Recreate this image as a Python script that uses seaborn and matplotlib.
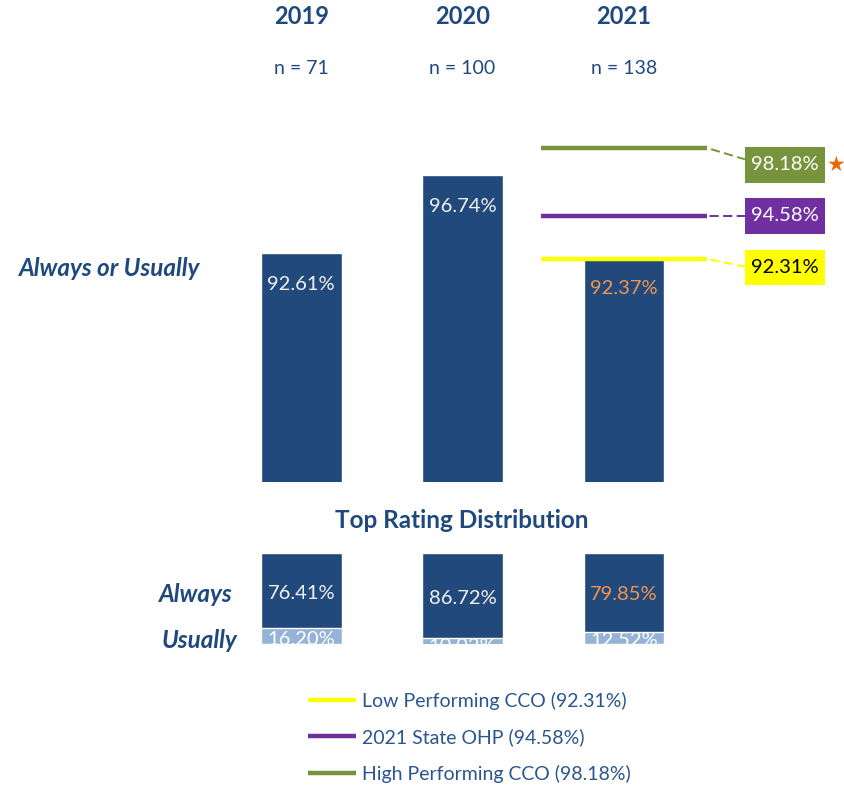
import matplotlib
matplotlib.use("Agg")
import matplotlib.pyplot as plt
import matplotlib.transforms as mtransforms
from matplotlib.path import Path
import seaborn as sns
import pandas as pd

# dados
years = ["2019", "2020", "2021"]
n_resp = [71, 100, 138]
always_usually = [92.61, 96.74, 92.37]
always = [76.41, 86.72, 79.85]
usually = [16.20, 10.02, 12.52]

bench_names = ["Low Performing CCO", "2021 State OHP", "High Performing CCO"]
bench_values = [92.31, 94.58, 98.18]
bench_colors = ["#FFFF00", "#7030A0", "#77933C"]
bench_text_colors = ["black", "white", "white"]

# estilo
DARK = "#22497B"
LIGHT = "#95B3D7"
NAVY = "#1F497D"
ORANGE = "#F0954E"

sns.set_style("white")
plt.rcParams["font.family"] = ["Lato", "DejaVu Sans"]

W, H = 844, 788
fig = plt.figure(figsize=(W / 100, H / 100), dpi=100)

# eixo x comum: categorias 0,1,2 -> centros em ~301, 462, 623 px
x0_px, step_px = 301.2, 161.4
xlim = (-x0_px / step_px, (W - x0_px) / step_px)

def fy(px):
    return 1 - px / H

def value_box(x0, y0, width, height, mutation_size):
    """Caixa retangular com padding horizontal e vertical diferentes"""
    px, py = 0.3 * mutation_size, 0.45 * mutation_size
    x1, y1 = x0 + width + px, y0 + height + py
    x0, y0 = x0 - px, y0 - py
    return Path([(x0, y0), (x1, y0), (x1, y1), (x0, y1), (x0, y0)], closed=True)

# ---- painel principal ----
ax1 = fig.add_axes([0, fy(482), 1, (482 - 113.6) / H])
df_main = pd.DataFrame({"year": years, "value": always_usually})
sns.barplot(data=df_main, x="year", y="value", color=DARK, width=0.5,
            saturation=1, ax=ax1)
ax1.set_xlim(*xlim)
ax1.set_ylim(80.5, 100)
ax1.axis("off")

label_colors = ["#F2F2F2", "#F2F2F2", ORANGE]
for i, v in enumerate(always_usually):
    ax1.annotate(f"{v:.2f}%", xy=(i, v), xytext=(0, -31),
                 textcoords="offset pixels", ha="center", va="center",
                 fontsize=14.5, color=label_colors[i])

# linhas de referencia
line_start, line_end = 1.486, 2.515
for name, val, col in zip(bench_names, bench_values, bench_colors):
    ax1.hlines(val, line_start, line_end, color=col, lw=3.2,
               label=f"{name} ({val:.2f}%)", zorder=3)

box_dy = [-9, 0, -17]
box_relpos = [(0, 0.5), (0, 0.5), (0, 0.72)]
for val, col, tcol, dy, rp in zip(bench_values, bench_colors,
                                  bench_text_colors, box_dy, box_relpos):
    ax1.annotate(f"{val:.2f}%", xy=(line_end, val), xytext=(78, dy),
                 textcoords="offset pixels", ha="center", va="center",
                 fontsize=14.5, color=tcol, annotation_clip=False,
                 bbox=dict(boxstyle=value_box, fc=col, ec="none"),
                 arrowprops=dict(arrowstyle="-", color=col, lw=1.4,
                                 linestyle=(0, (4, 3)), shrinkA=0, shrinkB=0,
                                 relpos=rp))

# estrela
ax1.annotate("★", xy=(line_end, bench_values[2]), xytext=(129, -17),
             textcoords="offset pixels", ha="center", va="center",
             fontsize=15, color="#E36C09", family=["DejaVu Sans"],
             annotation_clip=False)

# cabecalhos
trans = mtransforms.blended_transform_factory(ax1.transData, fig.transFigure)
for i, (y, n) in enumerate(zip(years, n_resp)):
    ax1.text(i, fy(17), y, transform=trans, ha="center", va="center",
             fontsize=17, fontweight="bold", color=NAVY, clip_on=False)
    ax1.text(i, fy(68), f"n = {n}", transform=trans, ha="center",
             va="center", fontsize=14, color=NAVY, clip_on=False)

fig.text(110 / W, fy(269), "Always or Usually", ha="center", va="center",
         fontsize=17.5, fontweight="bold", style="italic", color=NAVY)

# ---- distribuicao ----
fig.text(462 / W, fy(520), "Top Rating Distribution", ha="center",
         va="center", fontsize=17.5, fontweight="bold", color=NAVY)

ax2 = fig.add_axes([0, fy(644), 1, (644 - 553) / H])
df_dist = pd.DataFrame({"year": years,
                        "always": always,
                        "total": [a + u for a, u in zip(always, usually)]})
sns.barplot(data=df_dist, x="year", y="total", color=LIGHT, width=0.5,
            saturation=1, ax=ax2)
sns.barplot(data=df_dist, x="year", y="always", color=DARK, width=0.5,
            saturation=1, ax=ax2)
ax2.set_xlim(*xlim)
ax2.set_ylim(92.5, 0)
ax2.axis("off")

for i, (a, u) in enumerate(zip(always, usually)):
    ax2.text(i, a / 2 + 2.5, f"{a:.2f}%", ha="center", va="center",
             fontsize=14.5, color=label_colors[i])
    ax2.text(i, a + u / 2 + 3, f"{u:.2f}%", ha="center", va="center",
             fontsize=14.5, color="white", clip_on=True)

fig.text(196 / W, fy(594), "Always", ha="center", va="center", fontsize=17.5,
         fontweight="bold", style="italic", color=NAVY)
fig.text(199 / W, fy(640), "Usually", ha="center", va="center", fontsize=17.5,
         fontweight="bold", style="italic", color=NAVY)

# legenda
leg = fig.legend(*ax1.get_legend_handles_labels(), loc="upper left",
                 bbox_to_anchor=(300 / W, fy(684)), frameon=False,
                 fontsize=14, handlelength=2.5, handletextpad=0.3,
                 labelspacing=0.95, borderaxespad=0)
for t in leg.get_texts():
    t.set_color("#2A5590")

fig.savefig("out.png", dpi=100)
